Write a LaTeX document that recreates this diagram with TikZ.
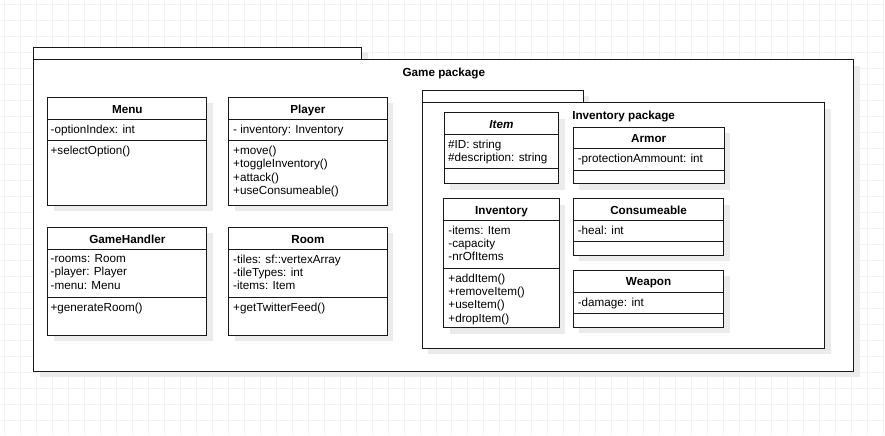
\documentclass[tikz,border=0pt]{standalone}
\usepackage{fontspec}
\setmainfont{Liberation Sans}
\usetikzlibrary{shadows}

\begin{document}
\begin{tikzpicture}[x=1pt,y=-1pt,
  every node/.style={font=\fontsize{11.7}{13.2}\selectfont},
  box/.style={draw=black!90,fill=white,line width=1pt,anchor=north west,inner sep=0,outer sep=0,
    drop shadow={opacity=1,fill=black!8,shadow xshift=6pt,shadow yshift=-6pt}},
  classname/.style={anchor=base,font=\fontsize{11.7}{13.2}\selectfont\bfseries},
  members/.style={anchor=north west,align=left,inner sep=0},
  divider/.style={draw=black!90,line width=1pt},
  gridline/.style={draw=black!5,line width=1pt}]

\fill[white] (0,0) rectangle (885,435);
\foreach \gx in {4,20,...,884} \draw[gridline] (\gx,0) -- (\gx,435);
\foreach \gy in {4,20,...,435} \draw[gridline] (0,\gy) -- (885,\gy);
\useasboundingbox (0,0) rectangle (885,435);

% game package
\node[box,minimum width=328.4,minimum height=12.6] (gametab) at (33.3,46.7) {};
\node[box,minimum width=821,minimum height=311.7] (gamepkg) at (33.3,59.3) {};
\node[classname] (gamelabel) at ([shift={(0,17)}]gamepkg.north) {Game package};

\node[box,minimum width=159,minimum height=108] (menu) at (47.5,97) {};
\node[classname] (menuname) at ([shift={(0,15.8)}]menu.north) {Menu};
\draw[divider] ([shift={(0,22)}]menu.north west) -- ([shift={(0,22)}]menu.north east);
\draw[divider] ([shift={(0,43.5)}]menu.north west) -- ([shift={(0,43.5)}]menu.north east);
\node[members] (menuattr) at ([shift={(2.5,27.3)}]menu.north west) {-optionIndex: int};
\node[members] (menuops) at ([shift={(2.5,48.8)}]menu.north west) {+selectOption()};

\node[box,minimum width=159,minimum height=108] (player) at (228.3,97) {};
\node[classname] (playername) at ([shift={(0,15.8)}]player.north) {Player};
\draw[divider] ([shift={(0,22)}]player.north west) -- ([shift={(0,22)}]player.north east);
\draw[divider] ([shift={(0,43.5)}]player.north west) -- ([shift={(0,43.5)}]player.north east);
\node[members] (playerattr) at ([shift={(4.5,27.3)}]player.north west) {- inventory: Inventory};
\node[members] (playerops) at ([shift={(4.5,48.8)}]player.north west)
  {+move()\\+toggleInventory()\\+attack()\\+useConsumeable()};

\node[box,minimum width=159,minimum height=108] (handler) at (47.5,227) {};
\node[classname] (handlername) at ([shift={(0,15.8)}]handler.north) {GameHandler};
\draw[divider] ([shift={(0,22)}]handler.north west) -- ([shift={(0,22)}]handler.north east);
\draw[divider] ([shift={(0,70.3)}]handler.north west) -- ([shift={(0,70.3)}]handler.north east);
\node[members] (handlerattr) at ([shift={(2.5,27.3)}]handler.north west)
  {-rooms: Room\\-player: Player\\-menu: Menu};
\node[members] (handlerops) at ([shift={(2.5,75.6)}]handler.north west) {+generateRoom()};

\node[box,minimum width=159,minimum height=108] (room) at (228.3,227) {};
\node[classname] (roomname) at ([shift={(0,15.8)}]room.north) {Room};
\draw[divider] ([shift={(0,22)}]room.north west) -- ([shift={(0,22)}]room.north east);
\draw[divider] ([shift={(0,70.3)}]room.north west) -- ([shift={(0,70.3)}]room.north east);
\node[members] (roomattr) at ([shift={(4.5,27.3)}]room.north west)
  {-tiles: sf::vertexArray\\-tileTypes: int\\-items: Item};
\node[members] (roomops) at ([shift={(4.5,75.6)}]room.north west) {+getTwitterFeed()};

% inventory package
\node[box,minimum width=161,minimum height=12.3] (invtab) at (422.3,90) {};
\node[box,minimum width=403,minimum height=245.7] (invpkg) at (422.3,102.3) {};
\node[classname] (invlabel) at ([shift={(0,17)}]invpkg.north) {Inventory package};

\node[box,minimum width=115,minimum height=71] (item) at (444,112.3) {};
\node[classname] (itemname) at ([shift={(0,15.8)}]item.north) {\itshape Item};
\draw[divider] ([shift={(0,22)}]item.north west) -- ([shift={(0,22)}]item.north east);
\draw[divider] ([shift={(0,56)}]item.north west) -- ([shift={(0,56)}]item.north east);
\node[members] (itemattr) at ([shift={(4,27.3)}]item.north west)
  {\#ID: string\\\#description: string};

\node[box,minimum width=115.5,minimum height=129.3] (inventory) at (443.8,198.3) {};
\node[classname] (inventoryname) at ([shift={(0,15.8)}]inventory.north) {Inventory};
\draw[divider] ([shift={(0,21.5)}]inventory.north west) -- ([shift={(0,21.5)}]inventory.north east);
\draw[divider] ([shift={(0,70)}]inventory.north west) -- ([shift={(0,70)}]inventory.north east);
\node[members] (inventoryattr) at ([shift={(4.5,27.3)}]inventory.north west)
  {-items: Item\\-capacity\\-nrOfItems};
\node[members] (inventoryops) at ([shift={(4.5,75.3)}]inventory.north west)
  {+addItem()\\+removeItem()\\+useItem()\\+dropItem()};

\node[box,minimum width=151.3,minimum height=56.6] (armor) at (573.3,126.7) {};
\node[classname] (armorname) at ([shift={(0,15.8)}]armor.north) {Armor};
\draw[divider] ([shift={(0,21.6)}]armor.north west) -- ([shift={(0,21.6)}]armor.north east);
\draw[divider] ([shift={(0,43.3)}]armor.north west) -- ([shift={(0,43.3)}]armor.north east);
\node[members] (armorattr) at ([shift={(4.5,27.3)}]armor.north west) {-protectionAmmount: int};

\node[box,minimum width=151,minimum height=56.7] (consumeable) at (573.3,198.3) {};
\node[classname] (consumeablename) at ([shift={(0,15.8)}]consumeable.north) {Consumeable};
\draw[divider] ([shift={(0,22.4)}]consumeable.north west) -- ([shift={(0,22.4)}]consumeable.north east);
\draw[divider] ([shift={(0,43.4)}]consumeable.north west) -- ([shift={(0,43.4)}]consumeable.north east);
\node[members] (consumeableattr) at ([shift={(4.5,27.3)}]consumeable.north west) {-heal: int};

\node[box,minimum width=151,minimum height=57.3] (weapon) at (573.3,270) {};
\node[classname] (weaponname) at ([shift={(0,15.8)}]weapon.north) {Weapon};
\draw[divider] ([shift={(0,22.7)}]weapon.north west) -- ([shift={(0,22.7)}]weapon.north east);
\draw[divider] ([shift={(0,43.3)}]weapon.north west) -- ([shift={(0,43.3)}]weapon.north east);
\node[members] (weaponattr) at ([shift={(4.5,27.3)}]weapon.north west) {-damage: int};
\end{tikzpicture}
\end{document}
